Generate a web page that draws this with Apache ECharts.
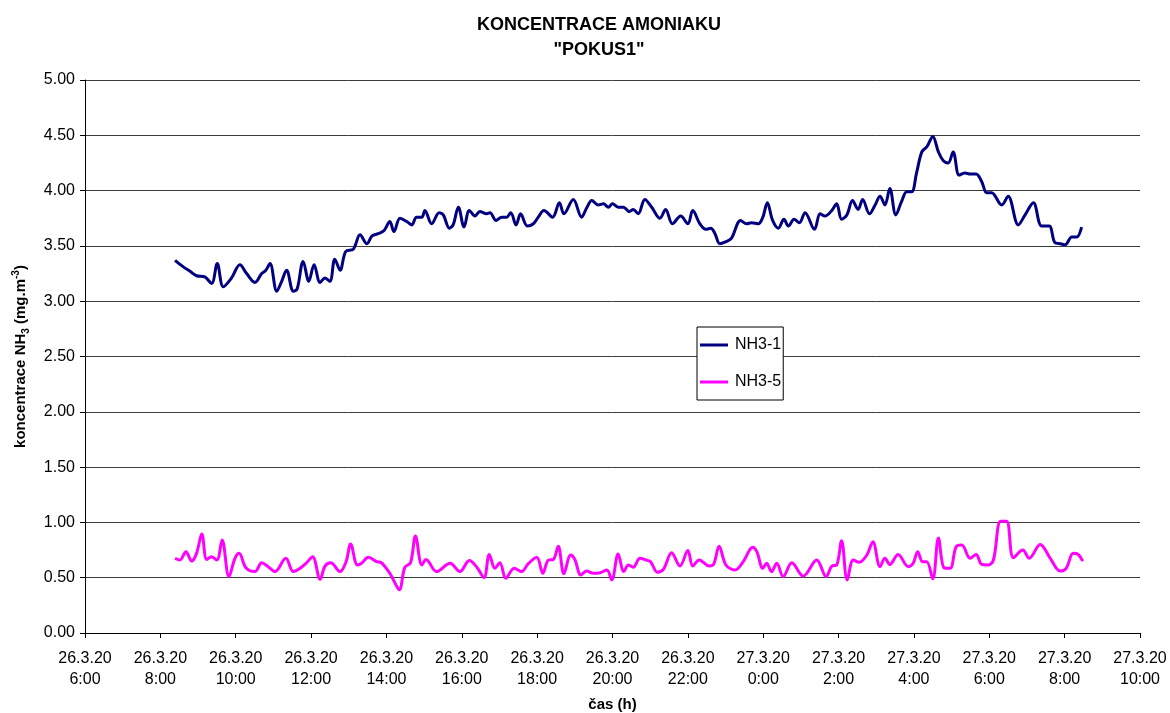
<!DOCTYPE html>
<html>
<head>
<meta charset="utf-8">
<script src="https://cdn.jsdelivr.net/npm/echarts@6/dist/echarts.min.js"></script>
<style>
html,body{margin:0;padding:0;background:#fff;}
#chart{width:1170px;height:713px;}
</style>
</head>
<body>
<div id="chart"></div>
<script>
// time in hours from 26.3.20 0:00, concentration in mg.m-3
var seriesNames = ['NH3-1', 'NH3-5'];
var xTickLabels = ['26.3.20\n6:00','26.3.20\n8:00','26.3.20\n10:00','26.3.20\n12:00','26.3.20\n14:00','26.3.20\n16:00','26.3.20\n18:00','26.3.20\n20:00','26.3.20\n22:00','27.3.20\n0:00','27.3.20\n2:00','27.3.20\n4:00','27.3.20\n6:00','27.3.20\n8:00','27.3.20\n10:00'];
var nh3_1 = [
[8.39,3.37],[8.61,3.31],[8.79,3.27],[8.96,3.23],[9.18,3.22],[9.36,3.16],[9.51,3.34],[9.67,3.13],[9.89,3.21],[10.11,3.33],
[10.29,3.25],[10.51,3.17],[10.69,3.25],[10.80,3.28],[10.91,3.34],[11.09,3.09],[11.22,3.18],[11.35,3.28],[11.53,3.09],[11.63,3.11],
[11.79,3.36],[11.94,3.18],[12.08,3.33],[12.24,3.17],[12.37,3.21],[12.50,3.18],[12.63,3.38],[12.77,3.28],[12.92,3.45],[13.12,3.47],
[13.30,3.60],[13.48,3.52],[13.62,3.59],[13.78,3.61],[13.94,3.64],[14.09,3.72],[14.20,3.63],[14.36,3.75],[14.54,3.72],[14.67,3.69],
[14.80,3.76],[14.94,3.76],[15.02,3.82],[15.20,3.70],[15.40,3.80],[15.51,3.78],[15.67,3.66],[15.77,3.69],[15.91,3.85],[16.06,3.67],
[16.20,3.82],[16.35,3.77],[16.48,3.81],[16.66,3.79],[16.75,3.80],[16.91,3.73],[17.06,3.76],[17.19,3.76],[17.30,3.80],[17.44,3.69],
[17.56,3.79],[17.74,3.68],[17.90,3.70],[18.03,3.76],[18.18,3.82],[18.41,3.76],[18.59,3.89],[18.71,3.79],[18.96,3.92],[19.18,3.76],
[19.31,3.84],[19.45,3.91],[19.62,3.87],[19.76,3.88],[19.89,3.85],[20.00,3.88],[20.15,3.85],[20.29,3.85],[20.45,3.81],[20.55,3.83],
[20.68,3.79],[20.86,3.92],[21.04,3.85],[21.26,3.75],[21.41,3.83],[21.59,3.70],[21.81,3.77],[22.00,3.70],[22.13,3.82],[22.32,3.70],
[22.48,3.65],[22.61,3.66],[22.72,3.61],[22.85,3.52],[23.03,3.54],[23.16,3.57],[23.40,3.73],[23.56,3.70],[23.69,3.71],[23.87,3.70],
[23.99,3.76],[24.11,3.89],[24.25,3.73],[24.40,3.66],[24.55,3.74],[24.67,3.68],[24.82,3.74],[24.96,3.71],[25.11,3.80],[25.36,3.65],
[25.51,3.79],[25.64,3.77],[25.82,3.82],[25.95,3.88],[26.08,3.74],[26.22,3.78],[26.37,3.91],[26.52,3.83],[26.64,3.92],[26.82,3.79],
[26.97,3.87],[27.10,3.95],[27.23,3.87],[27.36,4.02],[27.52,3.78],[27.67,3.90],[27.81,3.99],[27.94,3.99],[28.07,4.16],[28.21,4.35],
[28.35,4.40],[28.50,4.49],[28.65,4.35],[28.78,4.27],[28.91,4.25],[29.04,4.35],[29.20,4.14],[29.35,4.16],[29.49,4.15],[29.65,4.15],
[29.80,4.08],[29.93,3.98],[30.06,3.98],[30.33,3.87],[30.50,3.95],[30.77,3.69],[30.95,3.78],[31.17,3.89],[31.39,3.68],[31.59,3.68],
[31.74,3.53],[31.89,3.52],[32.01,3.51],[32.19,3.58],[32.32,3.58],[32.45,3.67]
];
var nh3_5 = [
[8.39,0.675],[8.52,0.66],[8.68,0.735],[8.83,0.65],[8.96,0.72],[9.10,0.895],[9.23,0.665],[9.36,0.69],[9.50,0.66],[9.64,0.84],
[9.82,0.51],[9.98,0.675],[10.09,0.72],[10.27,0.59],[10.51,0.555],[10.69,0.635],[10.86,0.60],[11.04,0.555],[11.33,0.675],[11.53,0.555],
[11.71,0.585],[11.88,0.635],[12.04,0.69],[12.24,0.485],[12.37,0.605],[12.52,0.635],[12.77,0.555],[12.93,0.645],[13.05,0.805],[13.23,0.615],
[13.34,0.63],[13.52,0.685],[13.74,0.645],[13.87,0.635],[14.09,0.54],[14.20,0.47],[14.34,0.39],[14.49,0.595],[14.64,0.635],[14.77,0.877],
[14.94,0.615],[15.05,0.665],[15.33,0.555],[15.69,0.63],[15.95,0.555],[16.20,0.655],[16.40,0.595],[16.59,0.50],[16.73,0.71],[16.88,0.585],
[17.01,0.635],[17.17,0.495],[17.39,0.585],[17.59,0.555],[17.76,0.625],[17.99,0.685],[18.15,0.54],[18.30,0.66],[18.43,0.665],[18.56,0.785],
[18.71,0.535],[18.89,0.705],[19.00,0.665],[19.16,0.525],[19.31,0.56],[19.49,0.54],[19.67,0.545],[19.85,0.57],[19.98,0.48],[20.15,0.715],
[20.30,0.555],[20.42,0.615],[20.55,0.595],[20.73,0.675],[20.89,0.66],[21.01,0.645],[21.19,0.55],[21.35,0.575],[21.57,0.725],[21.79,0.605],
[22.00,0.745],[22.13,0.605],[22.30,0.66],[22.57,0.605],[22.69,0.625],[22.83,0.785],[23.01,0.615],[23.25,0.57],[23.47,0.645],[23.72,0.775],
[23.83,0.735],[23.99,0.585],[24.09,0.63],[24.22,0.555],[24.36,0.63],[24.53,0.51],[24.76,0.635],[25.06,0.515],[25.42,0.66],[25.67,0.51],
[25.82,0.605],[25.95,0.615],[26.08,0.835],[26.23,0.48],[26.39,0.66],[26.55,0.64],[26.75,0.705],[26.91,0.825],[27.10,0.60],[27.23,0.675],
[27.36,0.62],[27.58,0.71],[27.85,0.60],[27.98,0.63],[28.10,0.735],[28.23,0.645],[28.34,0.645],[28.50,0.49],[28.65,0.86],[28.80,0.59],
[28.96,0.585],[29.12,0.78],[29.27,0.795],[29.49,0.675],[29.65,0.71],[29.80,0.62],[29.97,0.615],[30.11,0.66],[30.30,1.01],[30.46,1.01],
[30.64,0.68],[30.89,0.75],[31.06,0.675],[31.35,0.80],[31.61,0.68],[31.88,0.56],[32.04,0.585],[32.23,0.72],[32.36,0.71],[32.48,0.65]
];

var FONT = 'Liberation Sans, Arial, sans-serif';
var chart = echarts.init(document.getElementById('chart'), null, {renderer: 'canvas'});
chart.setOption({
  animation: false,
  backgroundColor: '#ffffff',
  textStyle: {fontFamily: FONT},
  title: {
    text: 'KONCENTRACE AMONIAKU\n"POKUS1"',
    left: 594,
    textAlign: 'center',
    top: 8,
    textStyle: {fontFamily: FONT, fontSize: 18, fontWeight: 'bold', color: '#000', lineHeight: 25}
  },
  legend: {
    orient: 'vertical',
    left: 697,
    top: 327,
    backgroundColor: '#fff',
    borderColor: '#000',
    borderWidth: 1,
    padding: [10, 2, 10, 3],
    itemGap: 21,
    itemWidth: 28,
    itemHeight: 3,
    icon: 'rect',
    textStyle: {fontFamily: FONT, fontSize: 16, lineHeight: 16, color: '#000', padding: [0, 0, 0, 2]},
    data: seriesNames
  },
  grid: {left: 85, right: 30, top: 80, bottom: 80, containLabel: false, outerBoundsMode: 'none'},
  xAxis: {
    type: 'value',
    min: 6, max: 34, interval: 2,
    name: 'čas (h)',
    nameLocation: 'middle',
    nameGap: 64,
    nameTextStyle: {fontFamily: FONT, fontSize: 15, fontWeight: 'bold', color: '#000'},
    axisLine: {show: true, onZero: false, lineStyle: {color: '#000', width: 1}},
    axisTick: {show: true, length: 5, inside: false, lineStyle: {color: '#000'}},
    splitLine: {show: false},
    axisLabel: {
      fontFamily: FONT, fontSize: 16, color: '#000', lineHeight: 21, margin: 15,
      formatter: function (v) { var i = Math.round((v - 6) / 2); return xTickLabels[i] || ''; }
    }
  },
  yAxis: {
    type: 'value',
    min: 0, max: 5, interval: 0.5,
    name: '{m|koncentrace NH}{sub|3}{m| (mg.m}{sup|-3}{m|)}',
    nameLocation: 'middle',
    nameRotate: 90,
    nameGap: 54,
    nameTextStyle: {
      fontFamily: FONT, fontSize: 15, fontWeight: 'bold', color: '#000',
      rich: {
        m: {fontFamily: FONT, fontSize: 15, fontWeight: 'bold', color: '#000', lineHeight: 20},
        sub: {fontFamily: FONT, fontSize: 10, fontWeight: 'bold', color: '#000', lineHeight: 10, verticalAlign: 'bottom'},
        sup: {fontFamily: FONT, fontSize: 10, fontWeight: 'bold', color: '#000', lineHeight: 10, verticalAlign: 'top'}
      }
    },
    axisLine: {show: true, lineStyle: {color: '#000', width: 1}},
    axisTick: {show: true, length: 5, inside: false, lineStyle: {color: '#000'}},
    splitLine: {show: true, lineStyle: {color: '#3c3c3c', width: 1}},
    axisLabel: {
      fontFamily: FONT, fontSize: 16, color: '#000', margin: 10,
      formatter: function (v) { return v.toFixed(2); }
    }
  },
  series: [
    {
      name: seriesNames[0], type: 'line', data: nh3_1, smooth: 0.35,
      symbol: 'none', showSymbol: false,
      lineStyle: {color: '#000080', width: 3}, itemStyle: {color: '#000080'}
    },
    {
      name: seriesNames[1], type: 'line', data: nh3_5, smooth: 0.35,
      symbol: 'none', showSymbol: false,
      lineStyle: {color: '#ff00ff', width: 3}, itemStyle: {color: '#ff00ff'}
    }
  ]
});
</script>
</body>
</html>
